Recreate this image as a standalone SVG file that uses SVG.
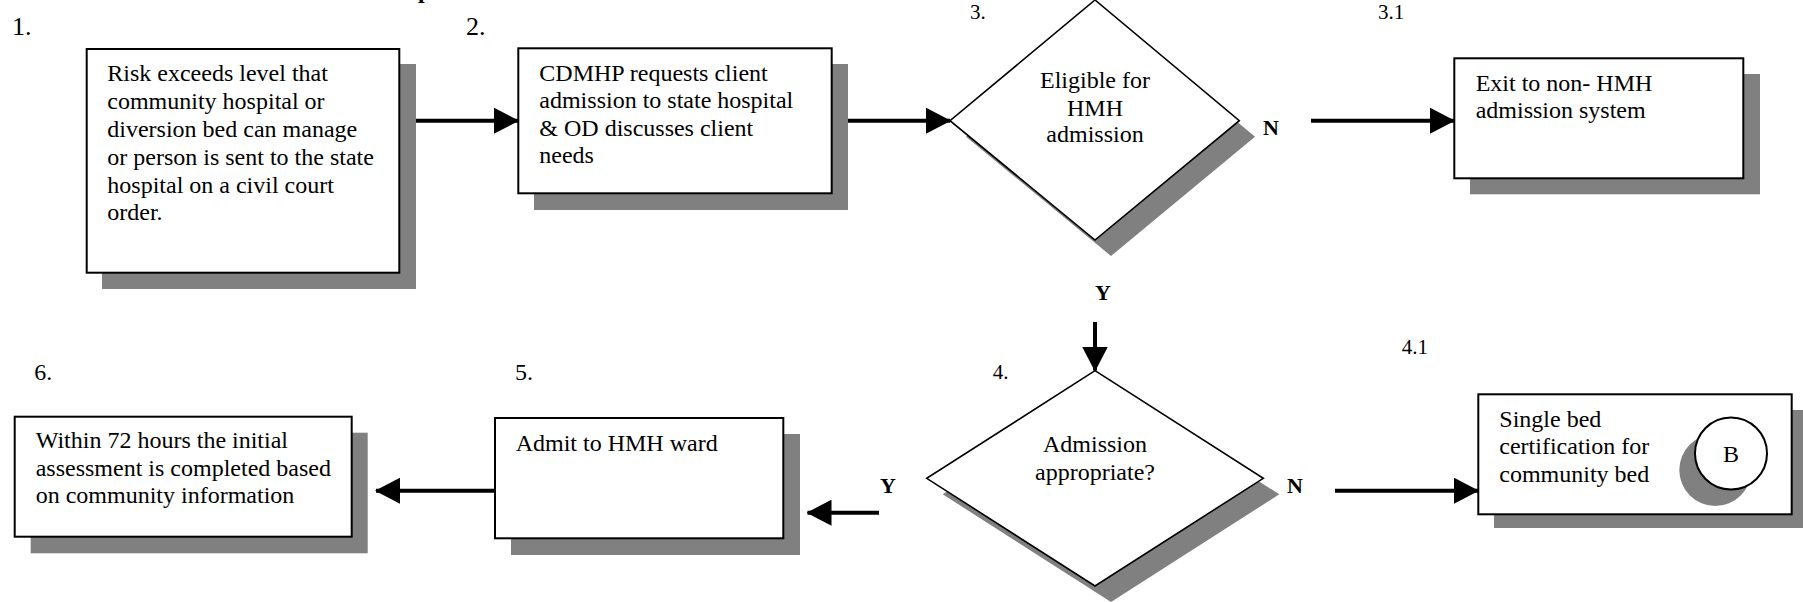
<svg xmlns="http://www.w3.org/2000/svg" width="1803" height="602" viewBox="0 0 1803 602">
<style>
.t{font-family:"Liberation Serif","Times New Roman",serif;font-size:24px;fill:#000}
.lbl{font-family:"Liberation Serif","Times New Roman",serif;fill:#000}
.yn{font-family:"Liberation Serif","Times New Roman",serif;font-size:22px;font-weight:bold;fill:#000}
.box{fill:#fff;stroke:#000;stroke-width:2}
.sh{fill:#808080}
.dia{fill:#fff;stroke:#000;stroke-width:1.6}
.con{stroke:#000;stroke-width:4;fill:none;marker-end:url(#ah)}
</style>
<defs>
<marker id="ah" viewBox="0 0 25 26" refX="24" refY="13" markerWidth="25" markerHeight="26" markerUnits="userSpaceOnUse" orient="auto">
<path d="M0,0 L25,13 L0,26 Z" fill="#000"/>
</marker>
</defs>
<rect width="1803" height="602" fill="#fff"/>
<text class="lbl" x="418" y="-2" font-size="24" font-weight="bold">p</text>

<g id="connectors">
<line class="con" x1="399" y1="120.7" x2="518" y2="120.7"/>
<line class="con" x1="832" y1="120.7" x2="950" y2="120.7"/>
<line class="con" x1="1311" y1="120.7" x2="1454" y2="120.7"/>
<line class="con" x1="1095" y1="322" x2="1095" y2="370.5"/>
<line class="con" x1="1335" y1="490.7" x2="1478" y2="490.7"/>
<line class="con" x1="879" y1="512.7" x2="807.5" y2="512.7"/>
<line class="con" x1="495" y1="490.7" x2="376" y2="490.7"/>
<text class="yn" x="1263" y="135">N</text>
<text class="yn" x="1095" y="300">Y</text>
<text class="yn" x="1287" y="493">N</text>
<text class="yn" x="880" y="493">Y</text>
</g>

<g id="n1">
<text class="lbl" x="12" y="35" font-size="26">1.</text>
<rect class="sh" x="102" y="64" width="314" height="225"/>
<rect class="box" x="86.7" y="49" width="312.6" height="223.7"/>
<text class="t" x="107.3" y="81">Risk exceeds level that</text>
<text class="t" x="107.3" y="109">community hospital or</text>
<text class="t" x="107.3" y="137">diversion bed can manage</text>
<text class="t" x="107.3" y="165">or person is sent to the state</text>
<text class="t" x="107.3" y="193">hospital on a civil court</text>
<text class="t" x="107.3" y="220">order.</text>
</g>

<g id="n2">
<text class="lbl" x="466" y="35" font-size="26">2.</text>
<rect class="sh" x="534" y="64" width="314" height="146"/>
<rect class="box" x="518.3" y="48.3" width="313.4" height="145"/>
<text class="t" x="539.3" y="81">CDMHP requests client</text>
<text class="t" x="539.3" y="108.3">admission to state hospital</text>
<text class="t" x="539.3" y="136">&amp; OD discusses client</text>
<text class="t" x="539.3" y="163.3">needs</text>
</g>

<g id="n3">
<text class="lbl" x="970" y="19" font-size="21">3.</text>
<polygon class="sh" points="1111,16 1255,136.7 1111,256 966,136.7"/>
<polygon class="dia" points="1095,0 1239.3,120.7 1095,240 950,120.7"/>
<text class="t" x="1095" y="88.3" text-anchor="middle">Eligible for</text>
<text class="t" x="1095" y="115.7" text-anchor="middle">HMH</text>
<text class="t" x="1095" y="142" text-anchor="middle">admission</text>
</g>

<g id="n31">
<text class="lbl" x="1378" y="19" font-size="21">3.1</text>
<rect class="sh" x="1470" y="74" width="290" height="120.3"/>
<rect class="box" x="1454.3" y="58.3" width="289" height="120"/>
<text class="t" x="1475.7" y="90.7">Exit to non- HMH</text>
<text class="t" x="1475.7" y="118.3">admission system</text>
</g>

<g id="n4">
<text class="lbl" x="992.7" y="379.3" font-size="21">4.</text>
<polygon class="sh" points="1111,386.7 1279.3,494.3 1111,602 942.7,494.3"/>
<polygon class="dia" points="1095,370.7 1263.3,478.3 1095,586 926.7,478.3"/>
<text class="t" x="1095" y="451.7" text-anchor="middle">Admission</text>
<text class="t" x="1095" y="480" text-anchor="middle">appropriate?</text>
</g>

<g id="n41">
<text class="lbl" x="1401.7" y="354" font-size="21">4.1</text>
<rect class="sh" x="1494" y="410" width="309" height="118"/>
<rect class="box" x="1478.3" y="394.3" width="313.4" height="120"/>
<text class="t" x="1499.3" y="426.7">Single bed</text>
<text class="t" x="1499.3" y="454">certification for</text>
<text class="t" x="1499.3" y="482.3">community bed</text>
<circle class="sh" cx="1715.3" cy="470" r="36"/>
<circle cx="1731" cy="453.5" r="36" fill="#fff" stroke="#000" stroke-width="2"/>
<text class="t" x="1731" y="461.5" text-anchor="middle">B</text>
</g>

<g id="n5">
<text class="lbl" x="515" y="380" font-size="24">5.</text>
<rect class="sh" x="511" y="434" width="289" height="121"/>
<rect class="box" x="495" y="418" width="288.3" height="120.3"/>
<text class="t" x="515.7" y="450.7">Admit to HMH ward</text>
</g>

<g id="n6">
<text class="lbl" x="34.3" y="380" font-size="24">6.</text>
<rect class="sh" x="30.7" y="432.7" width="337" height="120.6"/>
<rect class="box" x="14.7" y="416.7" width="337" height="120"/>
<text class="t" x="35.7" y="447.7">Within 72 hours the initial</text>
<text class="t" x="35.7" y="475.7">assessment is completed based</text>
<text class="t" x="35.7" y="503.3">on community information</text>
</g>
</svg>
